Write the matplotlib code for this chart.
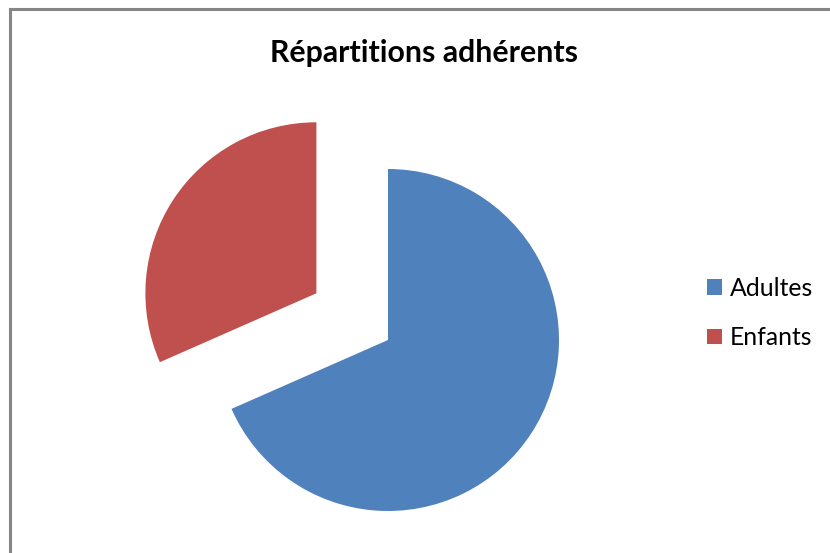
import matplotlib.pyplot as plt
from matplotlib.lines import Line2D

# data
categories = ['Adultes', 'Enfants']
values = [68.4, 31.6]
colors = ['#4F81BD', '#C0504D']
explode = [0, 0.5]

plt.rcParams['font.family'] = ['Lato', 'DejaVu Sans']

W, H = 830, 553
fig = plt.figure(figsize=(W / 100, H / 100), dpi=100)

# pie centre (388, 340) px from top-left, radius 171 px
cx, cy, r = 388, H - 340, 171
ax = fig.add_axes([0, 0, 1, 1])

wedges, _ = ax.pie(values, colors=colors, explode=explode, startangle=90,
                   counterclock=False, radius=1, frame=True,
                   wedgeprops=dict(linewidth=0))
ax.set_xlim(-cx / r, (W - cx) / r)
ax.set_ylim(-cy / r, (H - cy) / r)
ax.set_aspect('auto')
ax.axis('off')

# title
fig.text(424 / W, 1 - 62 / H, 'Répartitions adhérents', ha='center',
         va='baseline', fontsize=21.8, fontweight='bold', color='black')

# legend
fig.legend(wedges, categories, loc='upper left',
           bbox_to_anchor=(707 / W, 1 - 277 / H), frameon=False,
           fontsize=17.8, handlelength=0.61, handleheight=0.61,
           handletextpad=0.31, labelspacing=1.06, borderpad=0,
           borderaxespad=0)

# chart area border (top and left visible)
border = '#868686'
fig.add_artist(Line2D([9.5 / W, 1], [1 - 9 / H, 1 - 9 / H],
                      transform=fig.transFigure, color=border, lw=2.2))
fig.add_artist(Line2D([9.5 / W, 9.5 / W], [0, 1 - 9 / H],
                      transform=fig.transFigure, color=border, lw=2.2))

fig.savefig('out.png', dpi=100)
